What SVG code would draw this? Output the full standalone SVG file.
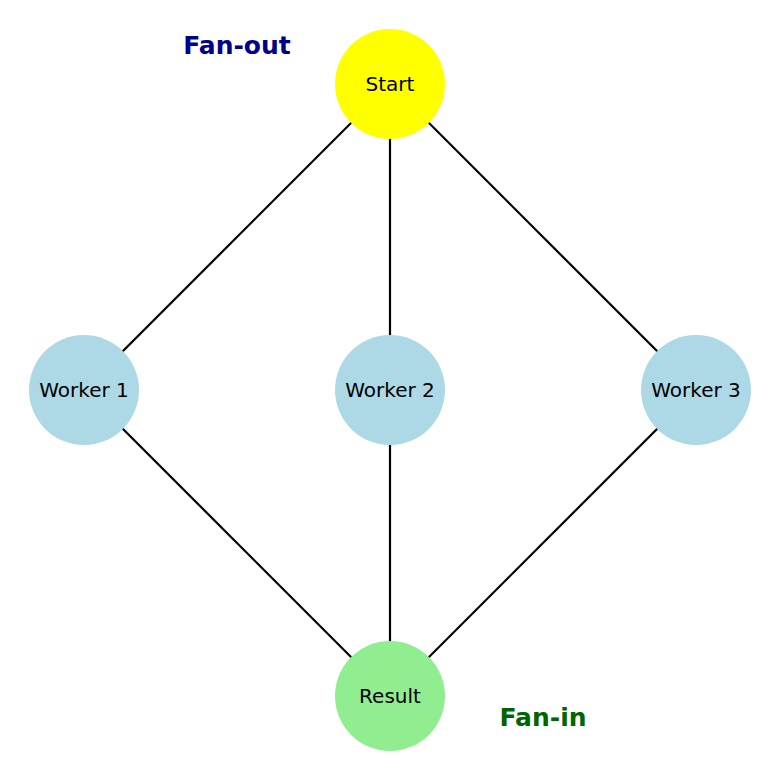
<svg xmlns="http://www.w3.org/2000/svg" width="780" height="780" viewBox="0 0 780 780">
<style>
.e{stroke:#000;stroke-width:2.2;fill:none}
.t{font-family:"DejaVu Sans",sans-serif;font-size:20px;text-anchor:middle;dominant-baseline:central;fill:#000}
.w{fill:#add8e6}
.h{font-family:"DejaVu Sans",sans-serif;font-size:25px;font-weight:bold;text-anchor:middle;dominant-baseline:central}
</style>
<rect width="780" height="780" fill="#fff"/>
<g id="connectors">
<line class="e" x1="390" y1="84" x2="84" y2="390"/>
<line class="e" x1="390" y1="84" x2="390" y2="390"/>
<line class="e" x1="390" y1="84" x2="696" y2="390"/>
<line class="e" x1="84" y1="390" x2="390" y2="696"/>
<line class="e" x1="390" y1="390" x2="390" y2="696"/>
<line class="e" x1="696" y1="390" x2="390" y2="696"/>
</g>
<g id="start"><circle cx="390" cy="84" r="55" fill="#ffff00"/><text class="t" x="390" y="84">Start</text></g>
<g id="worker1"><circle class="w" cx="84" cy="390" r="55"/><text class="t" x="84" y="390">Worker 1</text></g>
<g id="worker2"><circle class="w" cx="390" cy="390" r="55"/><text class="t" x="390" y="390">Worker 2</text></g>
<g id="worker3"><circle class="w" cx="696" cy="390" r="55"/><text class="t" x="696" y="390">Worker 3</text></g>
<g id="result"><circle cx="390" cy="696" r="55" fill="#90ee90"/><text class="t" x="390" y="696">Result</text></g>
<text class="h" x="237" y="45" fill="#00008b">Fan-out</text>
<text class="h" x="543" y="717" fill="#006400">Fan-in</text>
</svg>
